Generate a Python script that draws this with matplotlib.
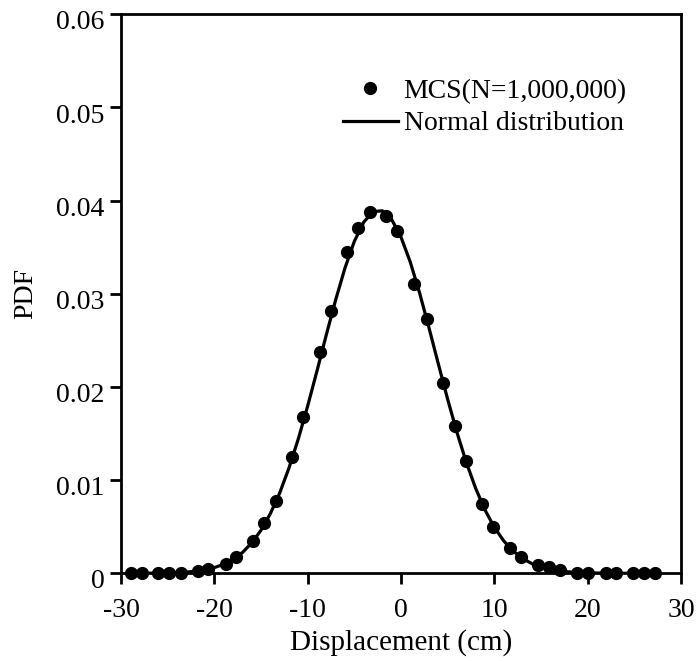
import numpy as np
import matplotlib
matplotlib.use("Agg")
from matplotlib import pyplot as plt
from matplotlib import rc
from matplotlib.transforms import ScaledTranslation

rc('font', family='Liberation Serif', size=20)
rc('axes', unicode_minus=False)

# MCS histogram points
mcs_x = [-28.96, -27.78, -26.0, -24.82, -23.6, -21.8, -20.63, -18.8, -17.63,
         -15.83, -14.65, -13.44, -11.65, -10.47, -8.67, -7.47, -5.78, -4.64,
         -3.27, -1.56, -0.41, 1.4, 2.81, 4.49, 5.74, 6.92, 8.71, 9.9, 11.68,
         12.9, 14.68, 15.86, 17.04, 18.91, 20.05, 21.95, 23.03, 24.81, 25.99,
         27.2]
mcs_pdf = [0.0, 0.0, 0.0, 0.0, 0.0, 0.00025, 0.0005, 0.001, 0.0018,
           0.0035, 0.0054, 0.0078, 0.0125, 0.0168, 0.0237, 0.0282, 0.0345,
           0.0371, 0.0388, 0.0383, 0.0367, 0.0311, 0.0273, 0.0204, 0.0158,
           0.0120, 0.0074, 0.0050, 0.00275, 0.00178, 0.00089, 0.00064,
           0.00035, 0.00006, 0.0, 0.0, 0.0, 0.0, 0.0, 0.0]

# normal distribution curve
norm_x = list(range(-29, 28))
norm_pdf = [0.0, 0.0, 0.00001, 0.00002, 0.00004, 0.00007, 0.00013, 0.00022,
            0.00037, 0.00061, 0.00096, 0.00148, 0.00222, 0.00325, 0.00462,
            0.0064, 0.00861, 0.01131, 0.01443, 0.01795, 0.02172, 0.0256,
            0.02935, 0.03277, 0.03562, 0.03768, 0.03881, 0.03891, 0.03798,
            0.03609, 0.03339, 0.03007, 0.02635, 0.02248, 0.01868, 0.01511,
            0.0119, 0.00912, 0.0068, 0.00494, 0.00349, 0.0024, 0.00161,
            0.00105, 0.00067, 0.00041, 0.00025, 0.00015, 0.00008, 0.00005,
            0.00003, 0.00001, 0.0, 0.0, 0.0, 0.0, 0.0]

xticks = [-30, -20, -10, 0, 10, 20, 30]
yticks = [0, 0.01, 0.02, 0.03, 0.04, 0.05, 0.06]
ytick_labels = ['0', '0.01', '0.02', '0.03', '0.04', '0.05', '0.06']

fig = plt.figure(figsize=(6.97, 6.61), dpi=100)
ax = fig.add_axes([0.1736, 0.1327, 0.8034, 0.8457])

ax.plot(mcs_x, mcs_pdf, 'o', color='k', markersize=8.5, clip_on=False,
        zorder=3, label='MCS(N=1,000,000)')
ax.plot(norm_x, norm_pdf, '-', color='k', linewidth=2.3, zorder=2,
        label='Normal distribution')

ax.set_xlim(-30, 30)
ax.set_ylim(0, 0.06)
ax.set_xticks(xticks)
ax.set_yticks(yticks)
ax.set_yticklabels(ytick_labels)
ax.set_xlabel('Displacement (cm)', fontsize=21, labelpad=4)
ax.set_ylabel('PDF', labelpad=13)

for s in ax.spines.values():
    s.set_linewidth(2)
ax.tick_params(direction='out', length=8, width=2)
ax.tick_params(axis='x', pad=10)
ax.tick_params(axis='y', pad=4)

# y tick labels sit a little below their ticks in the original
shift = ScaledTranslation(0, -4 / 72, fig.dpi_scale_trans)
for lab in ax.get_yticklabels():
    lab.set_transform(lab.get_transform() + shift)

ax.legend(loc='upper right', bbox_to_anchor=(0.938, 0.92), frameon=False,
          handlelength=2.0, handletextpad=0.2, labelspacing=0.25,
          borderpad=0.2)

fig.savefig('out.png', dpi=100)
